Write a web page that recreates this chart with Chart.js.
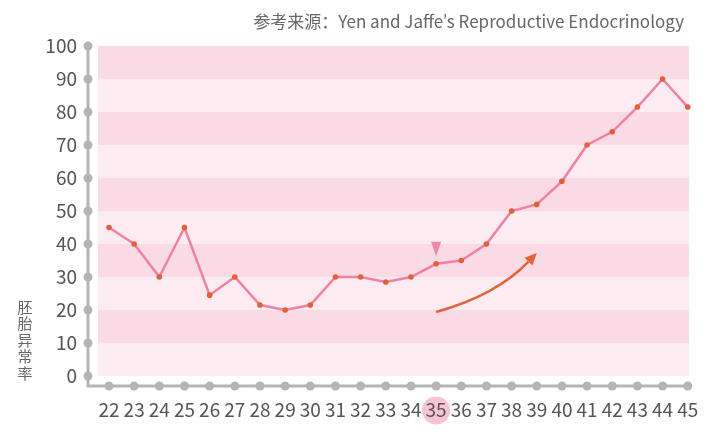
<!DOCTYPE html>
<html>
<head>
<meta charset="utf-8">
<script src="https://cdn.jsdelivr.net/npm/chart.js@4/dist/chart.umd.min.js"></script>
<style>
  html, body { margin: 0; padding: 0; background: #fff; }
  #wrap { width: 709px; height: 436px; }
</style>
</head>
<body>
<div id="wrap"><canvas id="rateChart"></canvas></div>
<script>
// maternal age (x) and abnormal embryo rate in % (y)
const ages = [22, 23, 24, 25, 26, 27, 28, 29, 30, 31, 32, 33, 34, 35, 36, 37, 38, 39, 40, 41, 42, 43, 44, 45];
const rates = [45, 40, 30, 45, 24.5, 30, 21.5, 20, 21.5, 30, 30, 28.5, 30, 34, 35, 40, 50, 52, 59, 70, 74, 81.5, 90, 81.5];
const yTicks = [0, 10, 20, 30, 40, 50, 60, 70, 80, 90, 100];
const highlightAge = 35;
const sourceParts = ['参考来源：Yen and Jaffe', '’', 's Reproductive Endocrinology'];
const yTitle = '胚胎异常率';

const cjkFont = "'Noto Sans CJK SC', 'Noto Sans', sans-serif";
const latinFont = "Lato, 'Noto Sans', sans-serif";

const bandsPlugin = {
    id: 'bands',
    beforeDraw(chart) {
        const { ctx, chartArea, scales: { x, y } } = chart;
        ctx.save();
        for (let i = 0; i < yTicks.length - 1; i++) {
            const top = y.getPixelForValue(yTicks[i + 1]);
            const bottom = y.getPixelForValue(yTicks[i]);
            ctx.fillStyle = i % 2 ? '#fadbe5' : '#fcebf1';
            ctx.fillRect(chartArea.left, top, chartArea.right - chartArea.left, bottom - top);
        }
        // pink disc behind the highlighted age label
        ctx.fillStyle = '#f6c4d4';
        ctx.beginPath();
        ctx.arc(x.getPixelForValue(highlightAge), chartArea.bottom + 34.5, 14, 0, Math.PI * 2);
        ctx.fill();
        ctx.restore();
    }
};

const axesPlugin = {
    id: 'dotAxes',
    beforeDatasetsDraw(chart) {
        const { ctx, chartArea, scales: { x, y } } = chart;
        const ax = chartArea.left - 10;
        const ay = chartArea.bottom + 10;
        ctx.save();
        ctx.strokeStyle = '#b5b5b5';
        ctx.fillStyle = '#b5b5b5';
        ctx.lineWidth = 3;
        ctx.beginPath();
        ctx.moveTo(ax, y.getPixelForValue(100));
        ctx.lineTo(ax, ay);
        ctx.lineTo(x.getPixelForValue(ages[ages.length - 1]), ay);
        ctx.stroke();
        yTicks.forEach(v => {
            ctx.beginPath();
            ctx.arc(ax, y.getPixelForValue(v), 4.5, 0, Math.PI * 2);
            ctx.fill();
        });
        ages.forEach(a => {
            ctx.beginPath();
            ctx.arc(x.getPixelForValue(a), ay, 4.5, 0, Math.PI * 2);
            ctx.fill();
        });
        ctx.restore();
    }
};

const notesPlugin = {
    id: 'notes',
    afterDatasetsDraw(chart) {
        const { ctx, scales: { x, y } } = chart;
        ctx.save();
        // small marker above age 35
        const mx = x.getPixelForValue(35);
        ctx.fillStyle = '#f088a8';
        ctx.beginPath();
        ctx.moveTo(mx - 5, y.getPixelForValue(40.7));
        ctx.lineTo(mx + 5, y.getPixelForValue(40.7));
        ctx.lineTo(mx, y.getPixelForValue(36.3));
        ctx.closePath();
        ctx.fill();

        // rising arrow
        const sx = x.getPixelForValue(35), sy = y.getPixelForValue(19.4);
        const cx = x.getPixelForValue(37.4), cy = y.getPixelForValue(24.5);
        const ex = x.getPixelForValue(39), ey = y.getPixelForValue(37.3);
        const ang = Math.atan2(ey - cy, ex - cx);
        const len = 12, half = 5.5;
        const bx = ex - Math.cos(ang) * len, by = ey - Math.sin(ang) * len;
        ctx.strokeStyle = '#e0643a';
        ctx.fillStyle = '#e0643a';
        ctx.lineWidth = 2.5;
        ctx.beginPath();
        ctx.moveTo(sx, sy);
        ctx.quadraticCurveTo(cx, cy, bx, by);
        ctx.stroke();
        ctx.beginPath();
        ctx.moveTo(ex, ey);
        ctx.lineTo(bx + Math.sin(ang) * half, by - Math.cos(ang) * half);
        ctx.lineTo(bx - Math.sin(ang) * half, by + Math.cos(ang) * half);
        ctx.closePath();
        ctx.fill();
        ctx.restore();
    },
    afterDraw(chart) {
        const { ctx } = chart;
        ctx.save();
        ctx.fillStyle = '#666';
        ctx.textBaseline = 'middle';
        // source note, right aligned; apostrophe from a Latin font
        const fonts = ['17px ' + cjkFont, '17px ' + latinFont, '17px ' + cjkFont];
        const widths = sourceParts.map((t, i) => { ctx.font = fonts[i]; return ctx.measureText(t).width; });
        let tx = 684 - widths.reduce((a, b) => a + b, 0);
        sourceParts.forEach((t, i) => {
            ctx.font = fonts[i];
            ctx.fillText(t, tx, 22);
            tx += widths[i];
        });
        ctx.textAlign = 'center';
        ctx.font = '15px ' + cjkFont;
        [...yTitle].forEach((ch, i) => ctx.fillText(ch, 25, 307 + i * 16.5));
        ctx.restore();
    }
};

const ctx = document.getElementById('rateChart').getContext('2d');

new Chart(ctx, {
    type: 'line',
    data: {
        datasets: [{
            data: ages.map((a, i) => ({ x: a, y: rates[i] })),
            borderColor: '#ef82a2',
            borderWidth: 2.5,
            pointBackgroundColor: '#e0603a',
            pointBorderWidth: 0,
            pointRadius: 2.8,
            tension: 0,
            clip: false
        }]
    },
    options: {
        responsive: true,
        maintainAspectRatio: false,
        animation: false,
        layout: { padding: { top: 46, right: 20, left: 0, bottom: 0 } },
        plugins: {
            legend: { display: false },
            tooltip: { enabled: false }
        },
        scales: {
            x: {
                type: 'linear',
                min: 21.563,
                max: 45.05,
                afterFit: s => { s.height = 60; s.paddingLeft = 0; s.paddingRight = 0; },
                afterBuildTicks: s => { s.ticks = ages.map(v => ({ value: v })); },
                grid: { display: false, drawTicks: false },
                border: { display: false },
                ticks: {
                    padding: 22,
                    autoSkip: false,
                    maxRotation: 0,
                    color: '#555',
                    font: { family: cjkFont, size: 19 }
                }
            },
            y: {
                min: 0,
                max: 100,
                afterFit: s => { s.width = 98; s.paddingTop = 0; s.paddingBottom = 0; },
                afterBuildTicks: s => { s.ticks = yTicks.map(v => ({ value: v })); },
                grid: { display: false, drawTicks: false },
                border: { display: false },
                ticks: {
                    padding: 21,
                    color: '#555',
                    font: { family: cjkFont, size: 19 }
                }
            }
        }
    },
    plugins: [bandsPlugin, axesPlugin, notesPlugin]
});
</script>
</body>
</html>
